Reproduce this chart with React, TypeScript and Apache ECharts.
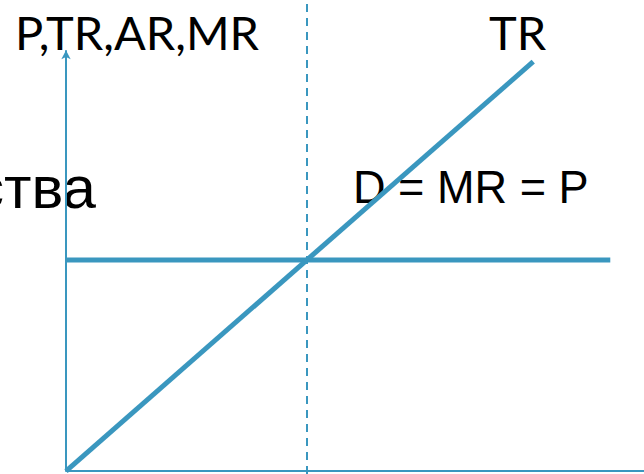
import React, { useEffect, useRef } from "react";
import * as echarts from "echarts";

const trQuantity = [0, 9.7];
const trValues = [0, 9.7];
const priceQuantity = [0, 11.3];
const priceValues = [5, 5];
const equilibriumQ = 5;
const xRange = [0, 12];
const yRange = [-0.07, 11.16];
const yAxisTop = 9.97;

const BLUE = "#3A97BF";

export default function App() {
  const ref = useRef<HTMLDivElement>(null);
  useEffect(() => {
    if (!ref.current) return;
    const chart = echarts.init(ref.current, null, { renderer: "svg" });
    chart.setOption({
      animation: false,
      backgroundColor: "#ffffff",
      grid: { left: 66, right: 0, top: 0, bottom: 0 },
      xAxis: {
        type: "value",
        min: xRange[0],
        max: xRange[1],
        axisLine: { show: true, onZero: true, lineStyle: { color: BLUE, width: 2 } },
        axisTick: { show: false },
        axisLabel: { show: false },
        splitLine: { show: false },
      },
      yAxis: {
        type: "value",
        min: yRange[0],
        max: yRange[1],
        axisLine: { show: false },
        axisTick: { show: false },
        axisLabel: { show: false },
        splitLine: { show: false },
      },
      series: [
        {
          type: "line",
          data: priceQuantity.map((q, i) => [q, priceValues[i]]),
          symbol: "none",
          clip: false,
          lineStyle: { color: BLUE, width: 5 },
          markLine: {
            silent: true,
            symbol: ["none", "none"],
            label: { show: false },
            lineStyle: { color: BLUE, width: 2, type: [8, 6] },
            data: [
              [
                { coord: [equilibriumQ, yRange[0]] },
                { coord: [equilibriumQ, yRange[1]] },
              ],
            ],
          },
        },
        {
          type: "line",
          data: trQuantity.map((q, i) => [q, trValues[i]]),
          symbol: "none",
          clip: false,
          lineStyle: { color: BLUE, width: 5 },
          markLine: {
            silent: true,
            symbol: ["none", "arrow"],
            symbolSize: [7, 9],
            label: { show: false },
            lineStyle: { color: BLUE, width: 2, type: "solid" },
            data: [[{ coord: [0, 0] }, { coord: [0, yAxisTop] }]],
          },
        },
      ],
      graphic: [
        {
          type: "text",
          left: 15,
          top: 8,
          style: { text: "P,TR,AR,MR", font: "47px Lato", fill: "#000" },
        },
        {
          type: "text",
          left: 489,
          top: 8,
          style: { text: "TR", font: "47px Lato", fill: "#000" },
        },
        {
          type: "text",
          x: 353,
          y: 163,
          scaleX: 0.96,
          style: { text: "D = MR = P", font: "47px 'Liberation Sans'", fill: "#000", verticalAlign: "top" },
        },
        {
          type: "text",
          x: 96,
          y: 157,
          style: { text: "ства", font: "60px 'Liberation Sans'", fill: "#000", align: "right", verticalAlign: "top" },
        },
      ],
    });
    return () => chart.dispose();
  }, []);
  return (
    <div
      ref={ref}
      style={{ position: "fixed", left: 0, top: 0, width: 644, height: 474 }}
    />
  );
}
